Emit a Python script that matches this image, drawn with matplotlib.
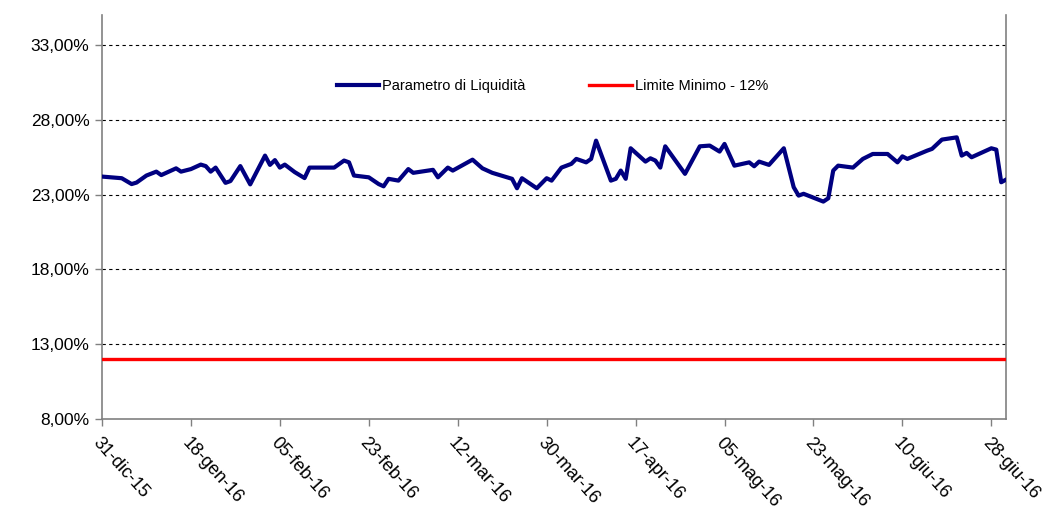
import matplotlib
matplotlib.use("Agg")
import matplotlib.pyplot as plt
import matplotlib.ticker as mticker
import pandas as pd

# valori
date = ["2015-12-31", "2016-01-04", "2016-01-06", "2016-01-07", "2016-01-09", "2016-01-11",
        "2016-01-12", "2016-01-15", "2016-01-16", "2016-01-18", "2016-01-20", "2016-01-21",
        "2016-01-22", "2016-01-23", "2016-01-25", "2016-01-26", "2016-01-28", "2016-01-30",
        "2016-02-02", "2016-02-03", "2016-02-04", "2016-02-05", "2016-02-06", "2016-02-08",
        "2016-02-10", "2016-02-11", "2016-02-16", "2016-02-18", "2016-02-19", "2016-02-20",
        "2016-02-23", "2016-02-25", "2016-02-26", "2016-02-27", "2016-02-29", "2016-03-02",
        "2016-03-03", "2016-03-07", "2016-03-08", "2016-03-10", "2016-03-11", "2016-03-15",
        "2016-03-17", "2016-03-19", "2016-03-23", "2016-03-24", "2016-03-25", "2016-03-28",
        "2016-03-30", "2016-03-31", "2016-04-02", "2016-04-04", "2016-04-05", "2016-04-07",
        "2016-04-08", "2016-04-09", "2016-04-12", "2016-04-13", "2016-04-14", "2016-04-15",
        "2016-04-16", "2016-04-19", "2016-04-20", "2016-04-21", "2016-04-22", "2016-04-23",
        "2016-04-27", "2016-04-30", "2016-05-02", "2016-05-04", "2016-05-05", "2016-05-07",
        "2016-05-10", "2016-05-11", "2016-05-12", "2016-05-14", "2016-05-17", "2016-05-19",
        "2016-05-20", "2016-05-21", "2016-05-25", "2016-05-26", "2016-05-27", "2016-05-28",
        "2016-05-31", "2016-06-02", "2016-06-04", "2016-06-07", "2016-06-09", "2016-06-10",
        "2016-06-11", "2016-06-15", "2016-06-16", "2016-06-18", "2016-06-21", "2016-06-22",
        "2016-06-23", "2016-06-24", "2016-06-28", "2016-06-29", "2016-06-30", "2016-07-01"]
liquidita = [24.20, 24.09, 23.70, 23.80, 24.27, 24.53,
             24.30, 24.75, 24.53, 24.70, 25.00, 24.90,
             24.53, 24.80, 23.78, 23.90, 24.90, 23.68,
             25.60, 24.98, 25.30, 24.80, 25.00, 24.50,
             24.10, 24.80, 24.80, 25.27, 25.15, 24.27,
             24.15, 23.70, 23.55, 24.05, 23.93, 24.70,
             24.45, 24.65, 24.15, 24.80, 24.60, 25.33,
             24.75, 24.45, 24.05, 23.42, 24.09, 23.42,
             24.09, 23.93, 24.80, 25.05, 25.38, 25.15,
             25.38, 26.60, 23.93, 24.05, 24.60, 24.05,
             26.09, 25.20, 25.42, 25.27, 24.80, 26.22,
             24.38, 26.22, 26.27, 25.87, 26.38, 24.93,
             25.15, 24.89, 25.20, 24.98, 26.09, 23.49,
             22.93, 23.05, 22.53, 22.75, 24.60, 24.93,
             24.80, 25.38, 25.71, 25.71, 25.15, 25.55,
             25.38, 25.93, 26.05, 26.67, 26.82, 25.60,
             25.78, 25.49, 26.09, 26.00, 23.82, 24.00]
limite = 12.0
y_ticks = [8, 13, 18, 23, 28, 33]
x_ticks = ["2015-12-31", "2016-01-18", "2016-02-05", "2016-02-23", "2016-03-12", "2016-03-30",
           "2016-04-17", "2016-05-05", "2016-05-23", "2016-06-10", "2016-06-28"]
x_labels = ["31-dic-15", "18-gen-16", "05-feb-16", "23-feb-16", "12-mar-16", "30-mar-16",
            "17-apr-16", "05-mag-16", "23-mag-16", "10-giu-16", "28-giu-16"]

plt.rcParams["font.family"] = ["Liberation Sans", "DejaVu Sans"]

d = pd.to_datetime(date)
fig = plt.figure(figsize=(10.6, 5.13), dpi=100)
ax = fig.add_axes([0.0962, 0.183, 0.853, 0.788])

ax.plot(d, liquidita, color="#000080", lw=3.0, label="Parametro di Liquidità", zorder=3)
ax.plot(d, [limite] * len(d), color="#ff0000", lw=2.4, label="Limite Minimo - 12%", zorder=3)

ax.set_ylim(8, 35)
ax.set_xlim(d[0], d[-1])
ax.set_yticks(y_ticks)
ax.yaxis.set_major_formatter(mticker.FuncFormatter(lambda v, p: f"{v:.2f}%".replace(".", ",")))
ax.set_xticks(pd.to_datetime(x_ticks))
ax.set_xticklabels(x_labels, rotation=-48, ha="left", va="top", rotation_mode="anchor")
ax.tick_params(axis="y", labelsize=12.5, direction="out", length=5, width=1, pad=4,
               color="#808080")
ax.tick_params(axis="x", labelsize=13, direction="out", length=5, width=1, pad=6,
               color="#808080")

for v in y_ticks[1:]:
    ax.axhline(v, color="#000000", lw=0.8, ls=(0, (3, 3)), zorder=1)

for s in ["left", "right", "bottom"]:
    ax.spines[s].set_color("#808080")
    ax.spines[s].set_linewidth(1.2)
ax.spines["top"].set_visible(False)

ax.legend(loc="center", bbox_to_anchor=(0.498, 0.824), ncol=2, frameon=False, fontsize=10.5,
          handlelength=2.9, handletextpad=0.2, columnspacing=4.4)

fig.savefig("out.png", dpi=100)
